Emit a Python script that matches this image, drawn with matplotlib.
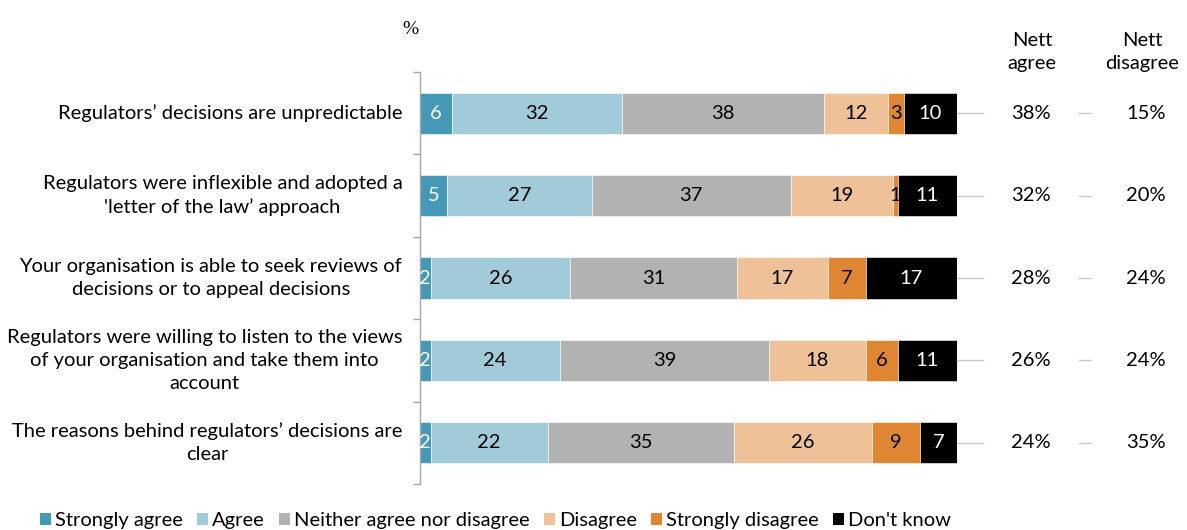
import matplotlib.pyplot as plt
import numpy as np
from matplotlib.patches import Patch
from matplotlib.lines import Line2D
from matplotlib.transforms import blended_transform_factory

# ---------- data ----------
statements = [
    "Regulators\u2019 decisions are unpredictable",
    "Regulators were inflexible and adopted a\n'letter of the law\u2019 approach",
    "Your organisation is able to seek reviews of\ndecisions or to appeal decisions",
    "Regulators were willing to listen to the views\nof your organisation and take them into\naccount",
    "The reasons behind regulators\u2019 decisions are\nclear",
]
responses = ["Strongly agree", "Agree", "Neither agree nor disagree",
             "Disagree", "Strongly disagree", "Don't know"]
strongly_agree = [6, 5, 2, 2, 2]
agree = [32, 27, 26, 24, 22]
neither = [38, 37, 31, 39, 35]
disagree = [12, 19, 17, 18, 26]
strongly_disagree = [3, 1, 7, 6, 9]
dont_know = [10, 11, 17, 11, 7]
nett_agree = ["38%", "32%", "28%", "26%", "24%"]
nett_disagree = ["15%", "20%", "24%", "24%", "35%"]

colors = ["#4598b6", "#a2cbd9", "#b2b2b2", "#eec198", "#df8632", "#000000"]
text_colors = ["white", "black", "black", "black", "black", "white"]

plt.rcParams['font.family'] = ['Lato', 'DejaVu Sans']
FS = 14.5

fig = plt.figure(figsize=(11.87, 5.30), dpi=100)
ax = fig.add_axes([420 / 1187, 1 - 484 / 530, 537 / 1187, 412 / 530])

series = np.array([strongly_agree, agree, neither, disagree, strongly_disagree, dont_know], dtype=float)
# published figures are rounded, bars are drawn to 100%
series = series / series.sum(axis=0) * 100
y = np.arange(len(statements))

left = np.zeros(len(statements))
raw = [strongly_agree, agree, neither, disagree, strongly_disagree, dont_know]
for i, vals in enumerate(series):
    ax.barh(y, vals, left=left, height=0.5, color=colors[i], edgecolor="white", linewidth=0.4)
    for j, v in enumerate(vals):
        ax.text(left[j] + v / 2, y[j], str(raw[i][j]), ha="center", va="center",
                fontsize=FS, color=text_colors[i])
    left += vals

ax.set_xlim(0, 100)
ax.set_ylim(len(statements) - 0.5, -0.5)
ax.set_xticks([])
ax.set_yticks(np.arange(len(statements) + 1) - 0.5)
ax.set_yticklabels([])
ax.tick_params(axis="y", length=5, color="#a6a6a6", width=1)
for s in ["top", "right", "bottom"]:
    ax.spines[s].set_visible(False)
ax.spines["left"].set_color("#a6a6a6")
ax.spines["left"].set_linewidth(1)

for j, lab in enumerate(statements):
    ax.text(-3.3, y[j], lab, ha="right", va="center", multialignment="center",
            fontsize=FS, linespacing=1.45)

# nett columns
tr = blended_transform_factory(fig.transFigure, ax.transData)
for j in range(len(statements)):
    ax.add_line(Line2D([957 / 1187, 983 / 1187], [y[j], y[j]], transform=tr,
                       color="#c8c8c8", lw=1, clip_on=False))
    ax.add_line(Line2D([1079 / 1187, 1091 / 1187], [y[j], y[j]], transform=tr,
                       color="#c8c8c8", lw=1, clip_on=False))
    ax.text(1031 / 1187, y[j], nett_agree[j], transform=tr, ha="center", va="center", fontsize=FS)
    ax.text(1146 / 1187, y[j], nett_disagree[j], transform=tr, ha="center", va="center", fontsize=FS)

fig.text(1032 / 1187, 1 - 52 / 530, "Nett\nagree", ha="center", va="center", fontsize=FS, linespacing=1.4)
fig.text(1142 / 1187, 1 - 52 / 530, "Nett\ndisagree", ha="center", va="center", fontsize=FS, linespacing=1.4)
fig.text(410 / 1187, 1 - 29 / 530, "%", ha="center", va="center", fontsize=14, family="Liberation Serif")

handles = [Patch(facecolor=c, edgecolor="none") for c in colors]
fig.legend(handles, responses, loc="lower left", bbox_to_anchor=(40 / 1187, 0.002), ncol=6,
           frameon=False, fontsize=FS, handlelength=0.55, handleheight=0.55,
           handletextpad=0.2, columnspacing=0.7, borderpad=0, borderaxespad=0)

plt.savefig("out.png", dpi=100)
